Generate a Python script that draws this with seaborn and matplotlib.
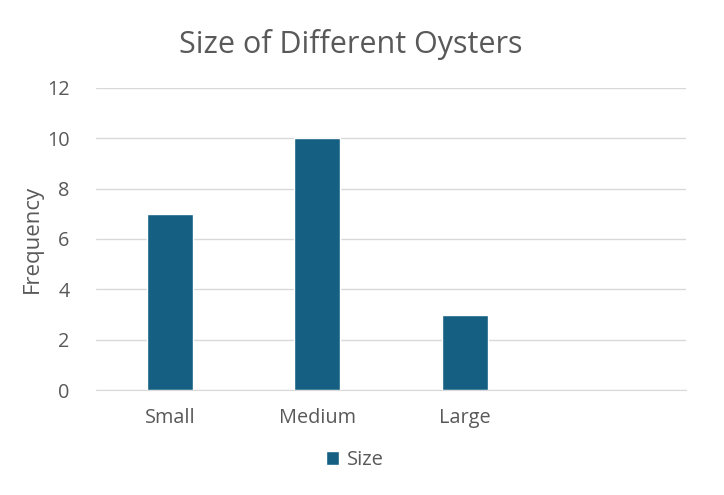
import matplotlib
matplotlib.use("Agg")
import matplotlib.pyplot as plt
import seaborn as sns
import pandas as pd

categories = ["Small", "Medium", "Large", ""]
values = [7, 10, 3, None]
series_name = "Size"
yticks = [0, 2, 4, 6, 8, 10, 12]

sns.set_style("white")
plt.rcParams['font.family'] = ['Open Sans', 'DejaVu Sans']
TXT = "#595959"
BAR = "#156082"

df = pd.DataFrame({"Category": categories, "Frequency": values, "Series": series_name})

fig = plt.figure(figsize=(7.24, 4.95), dpi=100)
ax = fig.add_axes([96/724, 1-390/495, 590/724, 302/495])
sns.barplot(data=df, x="Category", y="Frequency", hue="Series", palette=[BAR],
            order=categories, width=0.31, ax=ax, saturation=1, legend=True)
ax.set_ylim(0, 12)
ax.set_yticks(yticks)
ax.set_xlim(-0.5, 3.5)
ax.yaxis.grid(True, color="#D9D9D9", linewidth=1)
ax.set_axisbelow(True)
for s in ["top", "right", "left"]:
    ax.spines[s].set_visible(False)
ax.spines["bottom"].set_color("#D9D9D9")
ax.tick_params(axis="both", length=0, labelsize=14.3, colors=TXT)
ax.tick_params(axis="x", pad=13)
ax.tick_params(axis="y", pad=19)
ax.set_xlabel("")
ax.set_ylabel("Frequency", fontsize=16, color=TXT, labelpad=3)
fig.text(351/724, 1-45/495, "Size of Different Oysters", fontsize=22, color=TXT,
         ha="center", va="center")
ax.legend_.remove()
handles, labels = ax.get_legend_handles_labels()
fig.legend(handles, labels, loc="center", bbox_to_anchor=(355/724, 1-460/495), frameon=False,
           fontsize=14.5, labelcolor=TXT, handlelength=0.65, handleheight=0.65, handletextpad=0.4)
fig.savefig("out.png", dpi=100, facecolor="white")
